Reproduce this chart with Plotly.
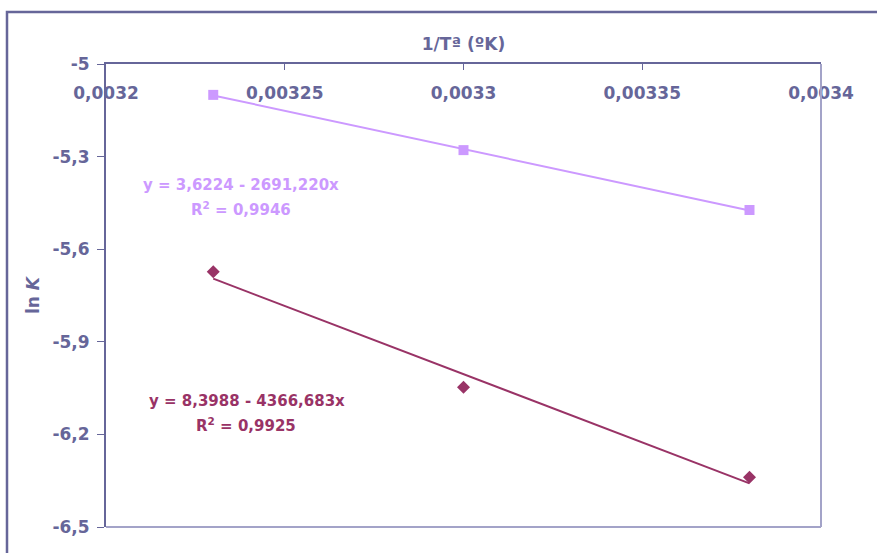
import numpy as np
import plotly.graph_objects as go

# ---- data ----
inv_T = [0.00323, 0.00330, 0.00338]
lnK_light = [-5.100, -5.279, -5.473]
lnK_dark = [-5.673, -6.047, -6.339]
x_ticks = [0.0032, 0.00325, 0.0033, 0.00335, 0.0034]
x_tick_text = ["0,0032", "0,00325", "0,0033", "0,00335", "0,0034"]
y_ticks = [-5.0, -5.3, -5.6, -5.9, -6.2, -6.5]
y_tick_text = ["-5", "-5,3", "-5,6", "-5,9", "-6,2", "-6,5"]
eq_light = ["y = 3,6224 - 2691,220x", "R<sup>2</sup> = 0,9946"]
eq_dark = ["y = 8,3988 - 4366,683x", "R<sup>2</sup> = 0,9925"]

LIGHT = "#cc99ff"
DARK = "#993366"
AXC = "#666699"
FONT = "DejaVu Sans"

def fit_line(x, y):
    m, b = np.polyfit(x, y, 1)
    xs = np.array([min(x), max(x)])
    return xs, m * xs + b

fig = go.Figure()

for ys, col in ((lnK_light, LIGHT), (lnK_dark, DARK)):
    fx, fy = fit_line(inv_T, ys)
    fig.add_trace(go.Scatter(x=fx, y=fy, mode="lines",
                             line=dict(color=col, width=2), hoverinfo="skip"))

fig.add_trace(go.Scatter(x=inv_T, y=lnK_light, mode="markers",
                         marker=dict(symbol="square", size=10, color=LIGHT)))
fig.add_trace(go.Scatter(x=inv_T, y=lnK_dark, mode="markers",
                         marker=dict(symbol="diamond", size=10, color=DARK)))

W, H = 877, 553
L, R, T, B = 106, 56, 64, 26
pw, ph = W - L - R, H - T - B

def px(xp):
    return (xp - L) / pw

def py(yp):
    return 1 - (yp - T) / ph

TICKF = dict(family=FONT, size=17, color=AXC, weight="bold")

fig.update_layout(
    width=W, height=H,
    margin=dict(l=L, r=R, t=T, b=B, autoexpand=False),
    paper_bgcolor="white", plot_bgcolor="white",
    showlegend=False,
    separators=",.",
    font=dict(family=FONT, color=AXC, size=16),
    xaxis=dict(
        side="top", range=[0.0032, 0.0034], automargin=False,
        tickvals=x_ticks, ticktext=x_tick_text,
        ticks="inside", ticklen=6, tickcolor=AXC, tickwidth=1,
        ticklabelposition="inside", ticklabeloverflow="allow",
        ticklabelstandoff=18,
        tickfont=TICKF,
        showline=True, linecolor=AXC, linewidth=2,
        showgrid=False, zeroline=False,
        title=dict(text="<b>1/Tª (ºK)</b>", font=dict(family=FONT, size=17, color=AXC), standoff=29),
    ),
    yaxis=dict(
        range=[-6.5, -5.0], automargin=False,
        tickvals=y_ticks, ticktext=y_tick_text,
        ticks="outside", ticklen=7, tickcolor=AXC, tickwidth=1,
        ticklabelstandoff=4,
        tickfont=TICKF,
        showline=True, linecolor=AXC, linewidth=2,
        showgrid=False, zeroline=False,
        title=dict(text="<b>ln <i>K</i></b>", font=dict(family=FONT, size=17, color=AXC), standoff=8),
    ),
    shapes=[
        dict(type="line", xref="paper", yref="paper", x0=1, x1=1, y0=0, y1=1,
             line=dict(color="#a3a3c8", width=2)),
        dict(type="line", xref="paper", yref="paper", x0=0, x1=1, y0=0, y1=0,
             line=dict(color="#a3a3c8", width=2)),
        dict(type="rect", xref="paper", yref="paper",
             x0=px(7), x1=px(890), y0=py(566), y1=py(12),
             line=dict(color=AXC, width=2.5), layer="below"),
    ],
    annotations=[
        dict(xref="paper", yref="paper", x=px(241), y=py(185), text="<b>%s</b>" % eq_light[0],
             xanchor="center", yanchor="middle",
             showarrow=False, font=dict(family=FONT, size=15, color=LIGHT)),
        dict(xref="paper", yref="paper", x=px(241), y=py(209), text="<b>%s</b>" % eq_light[1],
             xanchor="center", yanchor="middle",
             showarrow=False, font=dict(family=FONT, size=15, color=LIGHT)),
        dict(xref="paper", yref="paper", x=px(247), y=py(401), text="<b>%s</b>" % eq_dark[0],
             xanchor="center", yanchor="middle",
             showarrow=False, font=dict(family=FONT, size=15, color=DARK)),
        dict(xref="paper", yref="paper", x=px(246), y=py(425), text="<b>%s</b>" % eq_dark[1],
             xanchor="center", yanchor="middle",
             showarrow=False, font=dict(family=FONT, size=15, color=DARK)),
    ],
)

fig.write_html("out.html", config={"displayModeBar": False},
               post_script="document.body.style.margin='0';document.body.style.padding='0';")
